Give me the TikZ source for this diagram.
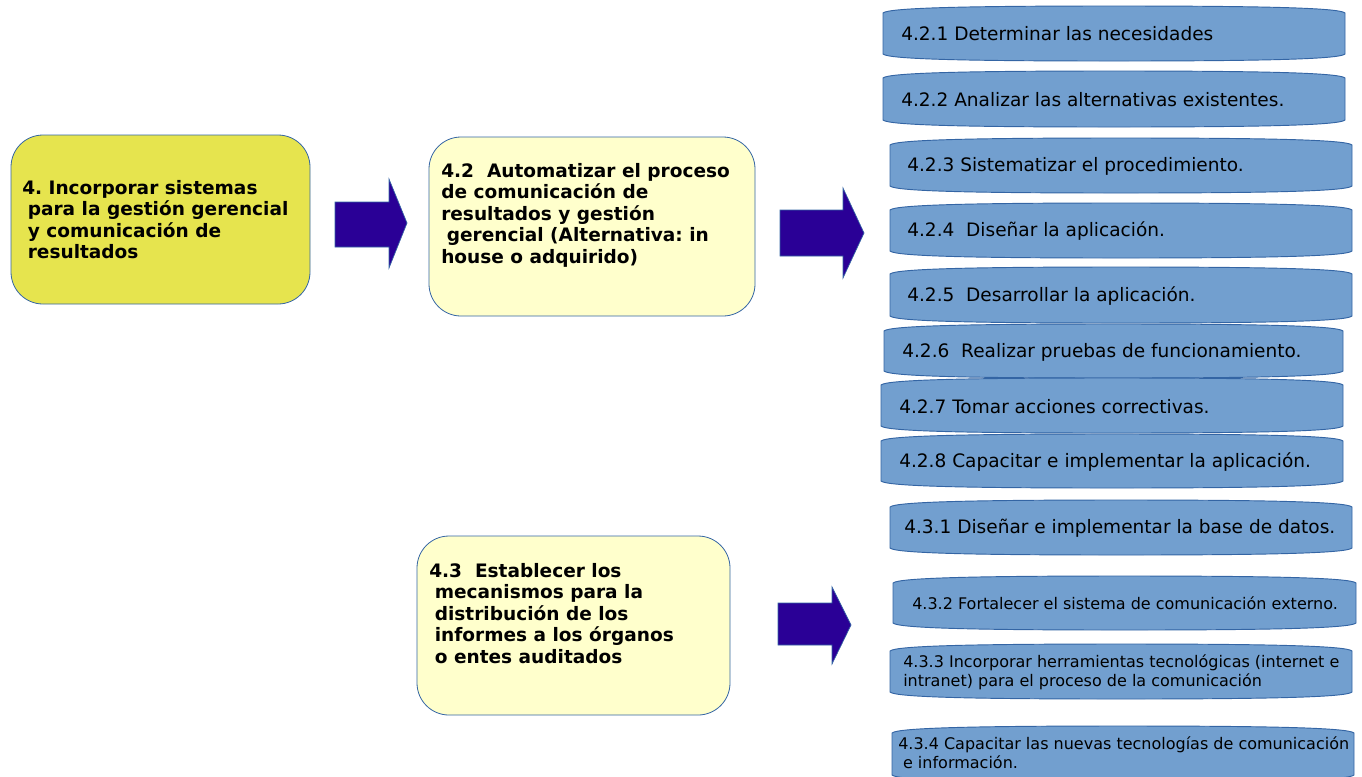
\documentclass[tikz,border=0pt]{standalone}
\usepackage{fontspec}
\setmainfont{DejaVu Sans}
\frenchspacing
\definecolor{bfill}{HTML}{729FCF}
\definecolor{bline}{HTML}{3465A4}
\definecolor{yA}{HTML}{E6E44E}
\definecolor{yB}{HTML}{FFFFCC}
\definecolor{arr}{HTML}{2A0096}
\newcommand\wbox[4]{%
  \pgfmathsetmacro\wxa{#1+0.012*(#3-#1)}%
  \pgfmathsetmacro\wxb{#1+0.2*(#3-#1)}%
  \pgfmathsetmacro\wxm{#1+0.5*(#3-#1)}%
  \pgfmathsetmacro\wxc{#1+0.8*(#3-#1)}%
  \pgfmathsetmacro\wxd{#1+0.988*(#3-#1)}%
  \draw[bboxstyle] (#1,#2+7) .. controls (\wxa,#2+1.5) and (\wxb,#2) .. (\wxm,#2)
    .. controls (\wxc,#2) and (\wxd,#2+1.5) .. (#3,#2+7) -- (#3,#4-7)
    .. controls (\wxd,#4-1.5) and (\wxc,#4) .. (\wxm,#4)
    .. controls (\wxb,#4) and (\wxa,#4-1.5) .. (#1,#4-7) -- cycle;}
\begin{document}
\begin{tikzpicture}[x=0.75pt,y=-0.75pt,
  bboxstyle/.style={fill=bfill,draw=bline,line width=0.7pt},
  ybox/.style={draw=bline,line width=0.6pt,rounded corners=24pt,inner sep=0},
  btxt/.style={font=\fontsize{13.9pt}{16.5pt}\selectfont,inner sep=0,anchor=west,align=left},
  stxt/.style={font=\fontsize{12pt}{14.25pt}\selectfont,inner sep=0,anchor=west,align=left},
  ytxt/.style={font=\bfseries\fontsize{13.9pt}{16.1pt}\selectfont,inner sep=0,anchor=west,align=left},
  blockarrow/.style={fill=arr,draw=bline,line width=0.5pt}]
\useasboundingbox (0,0) rectangle (1362,776);

% yellow boxes
\node[ybox,fill=yA,minimum width=224.25pt,minimum height=126.75pt] (boxA) at (160.5,219.5) {};
\node[ytxt] (tA) at (22,219.5) {4. Incorporar sistemas\\\hspace*{0.3em}para la gestión gerencial\\\hspace*{0.3em}y comunicación de\\\hspace*{0.3em}resultados};
\node[ybox,fill=yB,minimum width=244.5pt,minimum height=134.25pt] (boxB) at (592,226.5) {};
\node[ytxt] (tB) at (441,215) {4.2\ \ Automatizar el proceso\\de comunicación de\\resultados y gestión\\\hspace*{0.3em}gerencial (Alternativa: in\\house o adquirido)};
\node[ybox,fill=yB,minimum width=234.75pt,minimum height=134.25pt] (boxC) at (573.5,625.5) {};
\node[ytxt] (tC) at (429,613.5) {4.3\ \ Establecer los\\\hspace*{0.3em}mecanismos para la\\\hspace*{0.3em}distribución de los\\\hspace*{0.3em}informes a los órganos\\\hspace*{0.3em}o entes auditados};

% block arrows
\draw[blockarrow] (335,202) -- (389,202) -- (389,179) -- (407,223) -- (389,268) -- (389,247) -- (335,247) -- cycle;
\draw[blockarrow] (780,210) -- (843,210) -- (843,188) -- (864,233) -- (843,278) -- (843,256) -- (780,256) -- cycle;
\draw[blockarrow] (778,603) -- (832,603) -- (832,587) -- (851,625) -- (832,664) -- (832,645) -- (778,645) -- cycle;

% blue boxes
\wbox{883}{6}{1345}{61}
\node[btxt] (t421) at (901,34) {4.2.1 Determinar las necesidades};
\wbox{883}{71}{1345}{127}
\node[btxt] (t422) at (901,100) {4.2.2 Analizar las alternativas existentes.};
\wbox{890}{138}{1352}{193}
\node[btxt] (t423) at (907,166.5) {4.2.3 Sistematizar el procedimiento.};
\wbox{890}{203}{1352}{258}
\node[btxt] (t424) at (907,231.5) {4.2.4\ \ Diseñar la aplicación.};
\wbox{890}{267}{1352}{323}
\node[btxt] (t425) at (907,296) {4.2.5\ \ Desarrollar la aplicación.};
\wbox{884}{324}{1343}{378}
\node[btxt] (t426) at (902,352) {4.2.6\ \ Realizar pruebas de funcionamiento.};
\wbox{881}{378}{1343}{433}
\node[btxt] (t427) at (899,406.5) {4.2.7 Tomar acciones correctivas.};
\wbox{881}{434}{1343}{488}
\node[btxt] (t428) at (899,462) {4.2.8 Capacitar e implementar la aplicación.};
\wbox{890}{500}{1352}{555}
\node[btxt] (t431) at (904,528.5) {4.3.1 Diseñar e implementar la base de datos.};
\wbox{893}{576}{1356}{630}
\node[stxt] (t432) at (912,603.5) {4.3.2 Fortalecer el sistema de comunicación externo.};
\wbox{890}{644}{1352}{699}
\node[stxt] (t433) at (903,672) {4.3.3 Incorporar herramientas tecnológicas (internet e\\intranet) para el proceso de la comunicación};
\wbox{892}{726}{1354}{782}
\node[stxt] (t434) at (898,753) {4.3.4 Capacitar las nuevas tecnologías de comunicación\\\hspace*{0.3em}e información.};
\end{tikzpicture}
\end{document}
